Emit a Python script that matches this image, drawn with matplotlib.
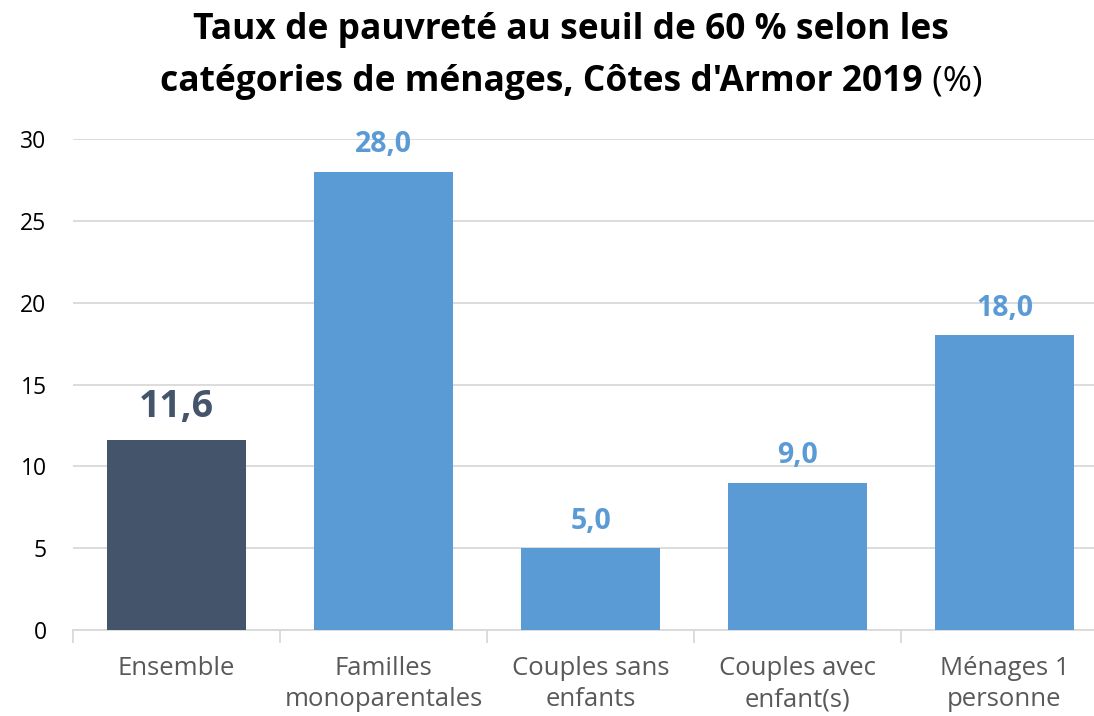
import matplotlib
matplotlib.use("Agg")
import matplotlib.pyplot as plt

categories = ["Ensemble", "Familles\nmonoparentales", "Couples sans\nenfants",
              "Couples avec\nenfant(s)", "Ménages 1\npersonne"]
values = [11.6, 28.0, 5.0, 9.0, 18.0]
labels = ["11,6", "28,0", "5,0", "9,0", "18,0"]
yticks = [0, 5, 10, 15, 20, 25, 30]

dark = "#44546A"
blue = "#5B9BD5"
FONT = ["Open Sans", "DejaVu Sans"]
plt.rcParams['font.family'] = FONT

fig = plt.figure(figsize=(10.94, 7.16), dpi=100)
ax = fig.add_axes([73/1094, 1-630/716, (1108-73)/1094, (630-139)/716])

colors = [dark] + [blue]*4
x = list(range(len(categories)))
ax.bar(x, values, width=0.67, color=colors, zorder=3)
ax.set_xlim(-0.5, len(categories)-0.5)
ax.set_ylim(0, 30)
ax.set_yticks(yticks)
ax.set_yticklabels([str(t) for t in yticks], fontsize=16.5, color="#000000")
ax.tick_params(axis='y', length=0, pad=19)
ax.yaxis.grid(True, color="#D9D9D9", linewidth=1.3, zorder=0)
ax.set_axisbelow(True)
for s in ["top", "right", "left"]:
    ax.spines[s].set_visible(False)
ax.spines["bottom"].set_color("#D9D9D9")
ax.spines["bottom"].set_linewidth(1.3)

ax.set_xticks([i - 0.5 for i in range(len(categories)+1)], minor=False)
ax.set_xticklabels([])
ax.tick_params(axis='x', length=9, color="#D9D9D9", width=1.3)
ax.set_xticks(x, minor=True)
ax.set_xticklabels(categories, minor=True, fontsize=18.5, color="#595959", linespacing=1.3)
ax.tick_params(axis='x', which='minor', length=0, pad=19)

for i, (v, lab) in enumerate(zip(values, labels)):
    if i == 0:
        ax.annotate(lab, (i, v), xytext=(0, 10), textcoords="offset points",
                    ha="center", va="bottom", fontsize=27, fontweight="bold", color=dark)
    else:
        ax.annotate(lab, (i, v), xytext=(0, 9), textcoords="offset points",
                    ha="center", va="bottom", fontsize=20.5, fontweight="bold", color=blue)

# Title
cx = 571/1094
fig.text(cx, 1-30/716, "Taux de pauvreté au seuil de 60 % selon les", ha="center", va="center",
         fontsize=25.5, fontweight="bold")
fig.canvas.draw()
r = fig.canvas.get_renderer()
t1 = fig.text(0, 0, "catégories de ménages, Côtes d'Armor 2019", fontsize=25.5, fontweight="bold", va="center")
t2 = fig.text(0, 0, " (%)", fontsize=25.5, va="center")
w1 = t1.get_window_extent(r).width / fig.bbox.width
w2 = t2.get_window_extent(r).width / fig.bbox.width
start = cx - (w1 + w2) / 2
y2 = 1-82/716
t1.set_position((start, y2))
t2.set_position((start + w1, y2))

fig.savefig("out.png", dpi=100)
